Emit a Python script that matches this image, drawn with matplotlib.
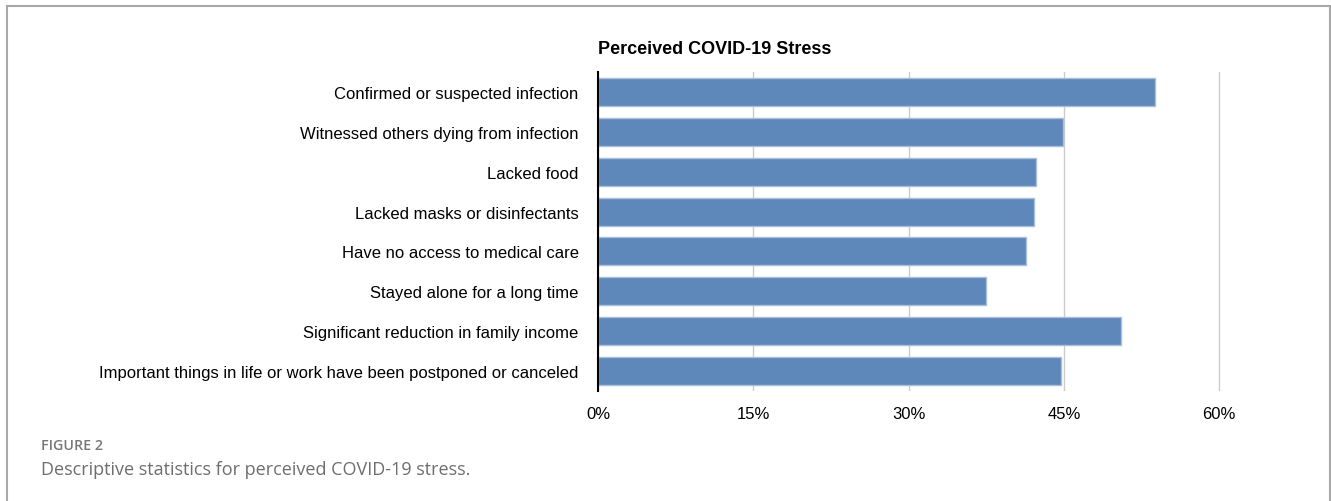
import matplotlib.pyplot as plt
from matplotlib.patches import Rectangle

categories = [
    "Confirmed or suspected infection",
    "Witnessed others dying from infection",
    "Lacked food",
    "Lacked masks or disinfectants",
    "Have no access to medical care",
    "Stayed alone for a long time",
    "Significant reduction in family income",
    "Important things in life or work have been postponed or canceled",
]
values = [53.8, 44.9, 42.3, 42.1, 41.3, 37.5, 50.5, 44.7]
xticks = [0, 15, 30, 45, 60]
xtick_labels = ["0%", "15%", "30%", "45%", "60%"]

plt.rcParams['font.family'] = ['Liberation Sans', 'DejaVu Sans']

fig = plt.figure(figsize=(13.31, 5.02), dpi=100)
ax = fig.add_axes([598 / 1331, 1 - 392 / 502, (1240 - 598) / 1331, (392 - 73) / 502])

ypos = list(range(len(categories)))
ax.barh(ypos, values, height=0.7, color='#5e87ba', edgecolor='#a8bfdc', linewidth=1, zorder=3)
ax.set_ylim(len(categories) - 0.5, -0.5)
ax.set_xlim(0, 62)
ax.set_yticks(ypos)
ax.set_yticklabels(categories, fontsize=12)
ax.set_xticks(xticks)
ax.set_xticklabels(xtick_labels, fontsize=12)
ax.tick_params(axis='y', length=0, pad=14)
ax.tick_params(axis='x', length=0, pad=11)
ax.grid(axis='x', color='#cccccc', linewidth=1, zorder=0)
for s in ['top', 'right', 'bottom']:
    ax.spines[s].set_visible(False)
ax.spines['left'].set_color('black')
ax.spines['left'].set_linewidth(1.5)
ax.spines['left'].set_zorder(4)

ax.set_title("Perceived COVID-19 Stress", loc='left', fontsize=13, fontweight='bold', pad=14)

# frame around the figure panel
fig.patches.append(Rectangle((7 / 1331, -0.1), (1330 - 7) / 1331, 1 - 7 / 502 + 0.1,
                             transform=fig.transFigure, fill=False,
                             edgecolor='#a8a8a8', linewidth=1.5))

fig.text(41 / 1331, 1 - 446 / 502, "FIGURE 2", fontsize=10.3, color='#777777',
         family=['Open Sans', 'DejaVu Sans'], fontweight='semibold', va='center')
fig.text(41 / 1331, 1 - 470 / 502, "Descriptive statistics for perceived COVID-19 stress.",
         fontsize=13, color='#6e6e6e', family=['Open Sans', 'DejaVu Sans'], va='center')

fig.savefig('out.png', dpi=100)
